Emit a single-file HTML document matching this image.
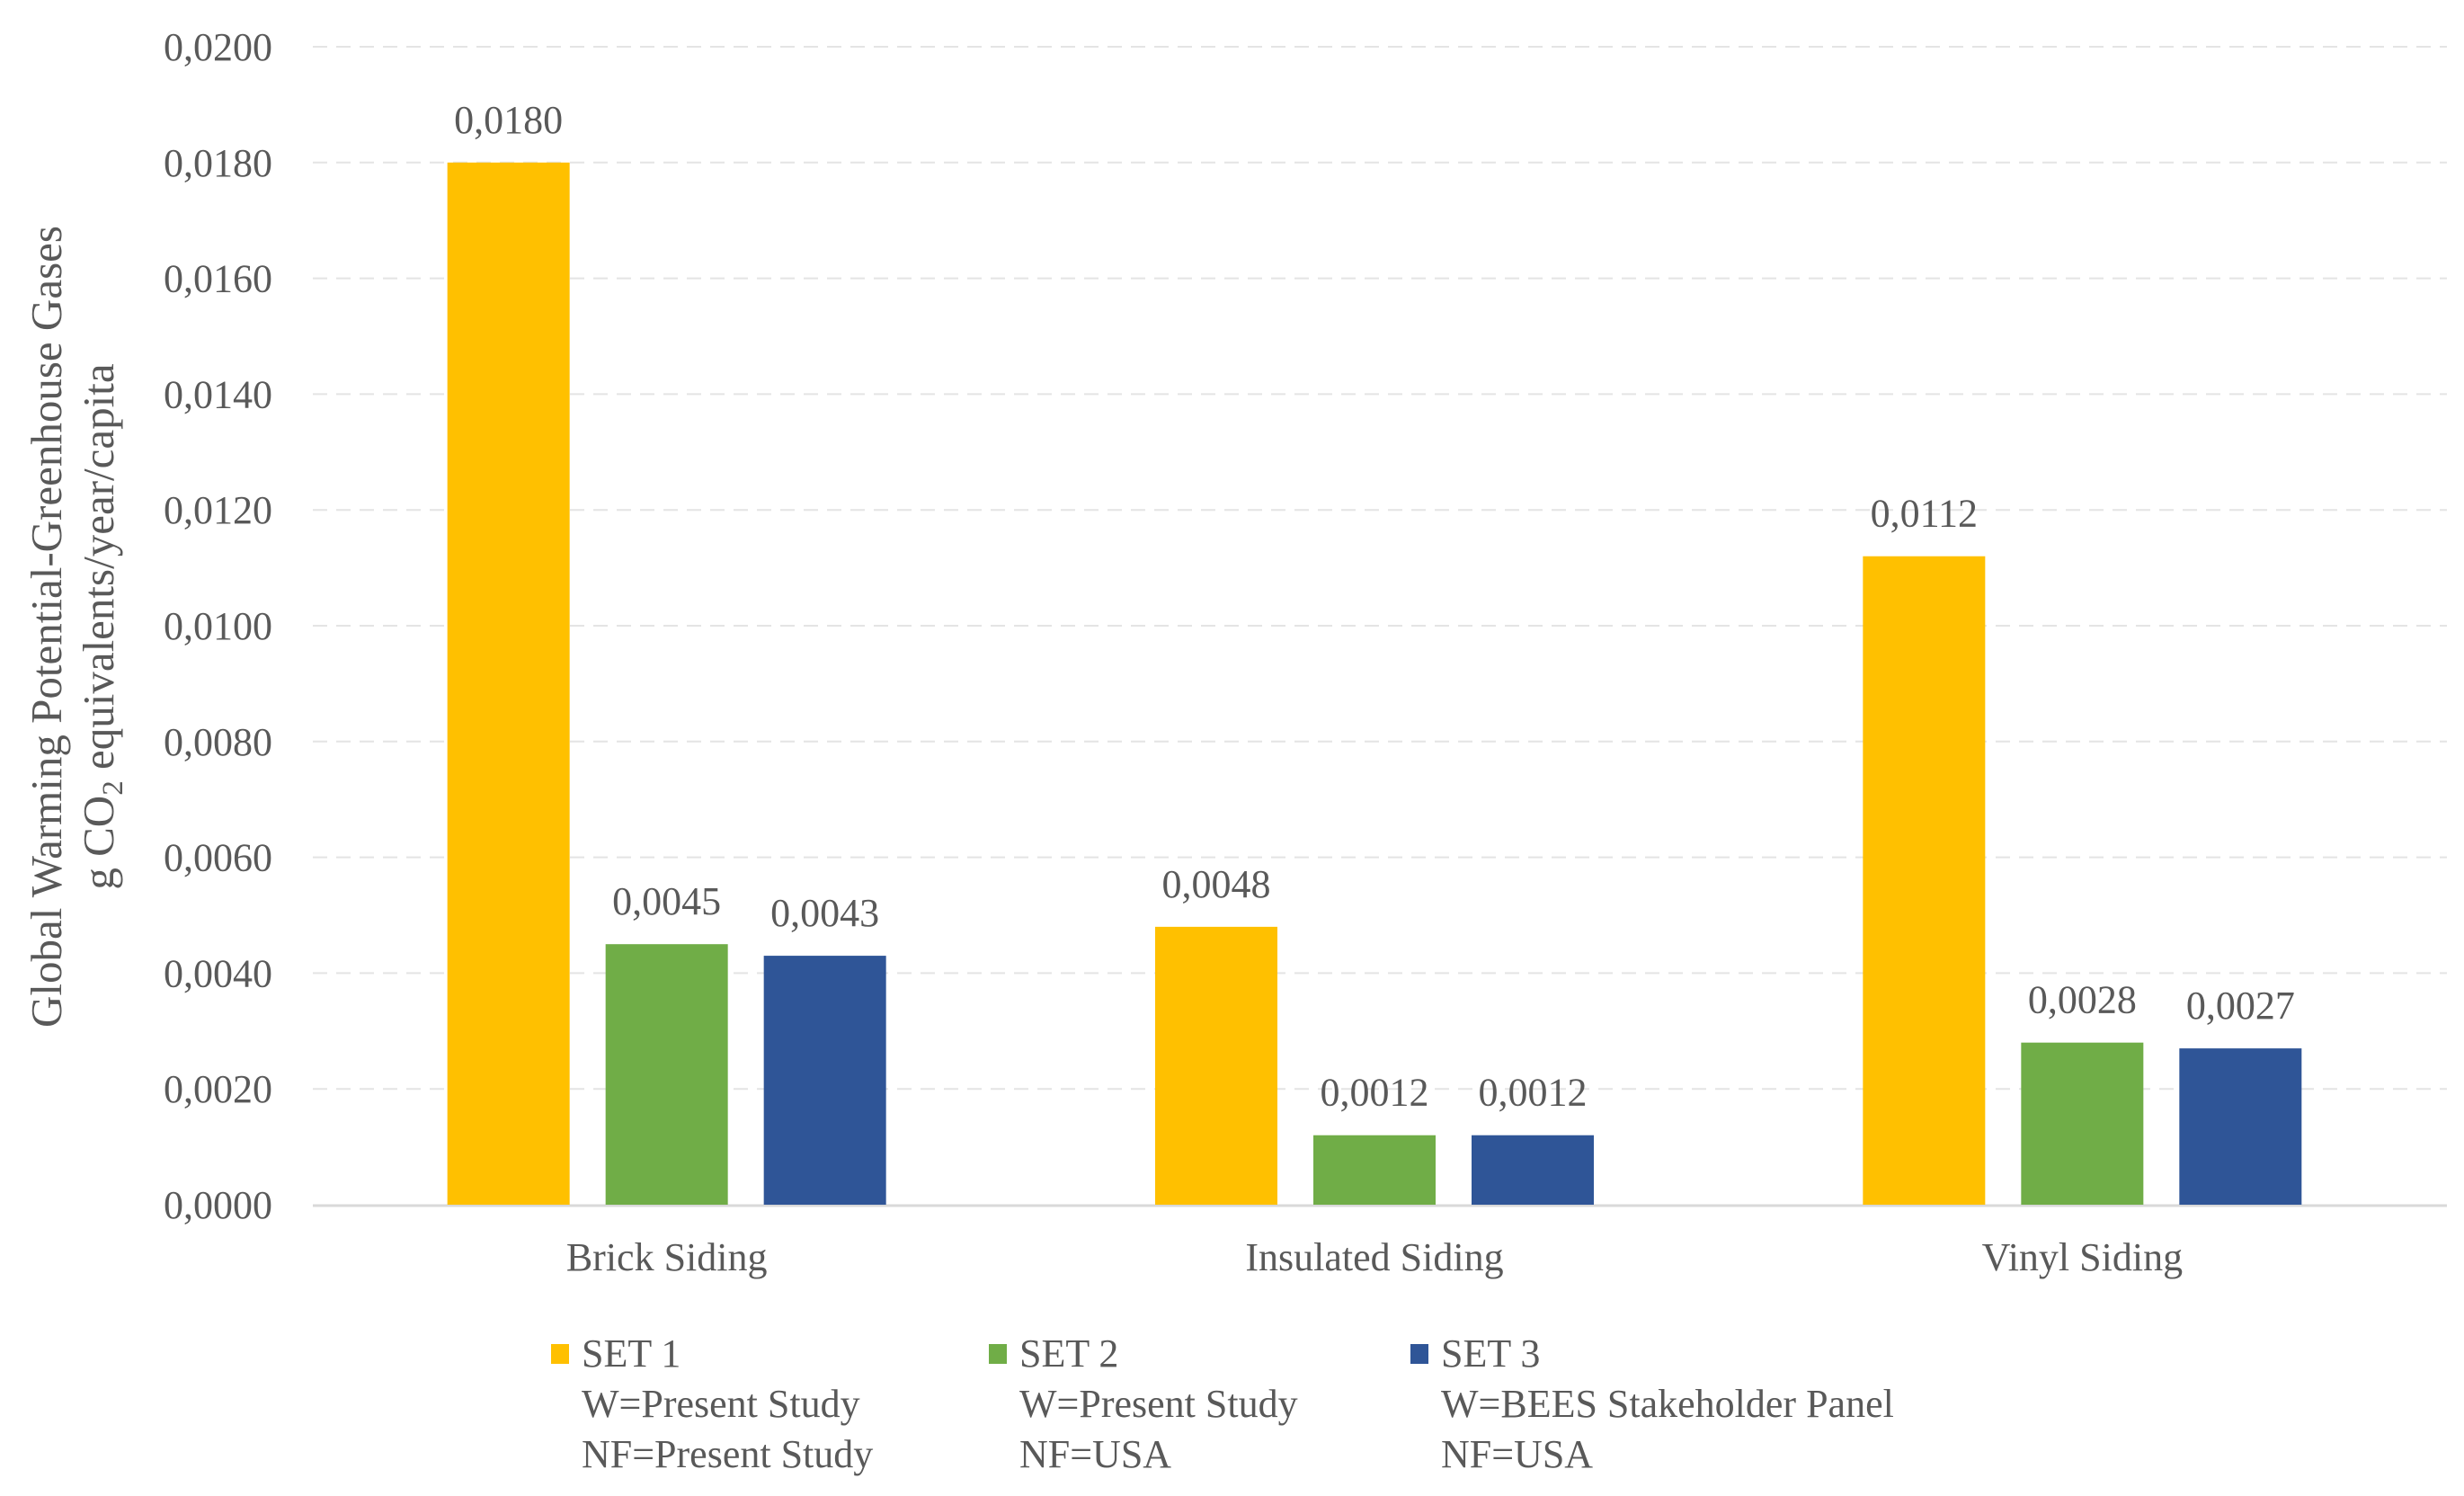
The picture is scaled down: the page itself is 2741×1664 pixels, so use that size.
<!DOCTYPE html>
<html><head><meta charset="utf-8">
<style>
html,body{margin:0;padding:0;background:#fff;}
svg{display:block;}
text{font-family:"Liberation Serif",serif;fill:#595959;}
</style></head>
<body>
<svg id="chart" width="2741" height="1664" viewBox="0 0 2741 1664" xmlns="http://www.w3.org/2000/svg">
<g id="grid"></g>
<g id="bars"></g>
<g id="labels"></g>
<g transform="translate(68,697) rotate(-90)">
  <text x="0" y="0" text-anchor="middle" font-size="49">Global Warming Potential-Greenhouse Gases</text>
  <text x="0" y="58" text-anchor="middle" font-size="49">g CO<tspan font-size="33" dy="10">2</tspan><tspan dy="-10"> equivalents/year/capita</tspan></text>
</g>
<g id="legend"></g>
</svg>
<script>
const categories = ["Brick Siding","Insulated Siding","Vinyl Siding"];
const set1 = [0.0180, 0.0048, 0.0112];
const set2 = [0.0045, 0.0012, 0.0028];
const set3 = [0.0043, 0.0012, 0.0027];
const yTicks = [0,0.002,0.004,0.006,0.008,0.010,0.012,0.014,0.016,0.018,0.020];
const seriesNames = ["SET 1","SET 2","SET 3"];
const legendLines = [["W=Present Study","NF=Present Study"],["W=Present Study","NF=USA"],["W=BEES Stakeholder Panel","NF=USA"]];
const colors = ["#FFC000","#70AD47","#2F5597"];

const NS="http://www.w3.org/2000/svg";
const L=348,R=2722,T=52,B=1340,yMax=0.02;
const y=v=>B-(v/yMax)*(B-T);
const band=(2710-L)/categories.length;
const xc=i=>L+band*(i+0.5);
const bw=136,step=176;
function mk(tag,attrs,parent,txt){const e=document.createElementNS(NS,tag);for(const k in attrs)e.setAttribute(k,attrs[k]);if(txt!==undefined)e.textContent=txt;parent.appendChild(e);return e;}
const fmt=v=>v.toFixed(4).replace('.',',');
const grid=document.getElementById('grid'),bars=document.getElementById('bars'),labels=document.getElementById('labels'),legend=document.getElementById('legend');
yTicks.forEach((t,i)=>{
  if(t>0){const g=mk('line',{x1:L,x2:R,y1:y(t),y2:y(t),stroke:'#e4e4e4','stroke-width':2,'stroke-dasharray':'16,10'},grid);
  
  }
  const tl=mk('text',{x:303,y:y(t)+15,'text-anchor':'end','font-size':44},labels,fmt(t));
  
  
});
const series=[set1,set2,set3];
categories.forEach((c,i)=>{
  series.forEach((s,j)=>{
    const cx=xc(i)+(j-1)*step;
    const r=mk('rect',{x:cx-bw/2,y:y(s[i]),width:bw,height:B-y(s[i]),fill:colors[j]},bars);
    
    
    const vl=mk('text',{x:cx,y:y(s[i])-33,'text-anchor':'middle','font-size':44},labels,fmt(s[i]));
    
    
  });
  const cl=mk('text',{x:xc(i),y:1413,'text-anchor':'middle','font-size':44},labels,c);
  
  
});
const ax=mk('line',{x1:L,x2:R,y1:B+1,y2:B+1,stroke:'#d9d9d9','stroke-width':3},grid);


const lx=[613,1100,1569];
seriesNames.forEach((n,j)=>{
  const g=mk('g',{},legend);
  
  
  mk('rect',{x:lx[j],y:1495,width:20,height:22,fill:colors[j]},g);
  mk('text',{x:lx[j]+34,y:1520,'font-size':44},g,n);
  legendLines[j].forEach((t,k)=>mk('text',{x:lx[j]+34,y:1576+k*56,'font-size':44},g,t));
});
</script>
</body></html>
